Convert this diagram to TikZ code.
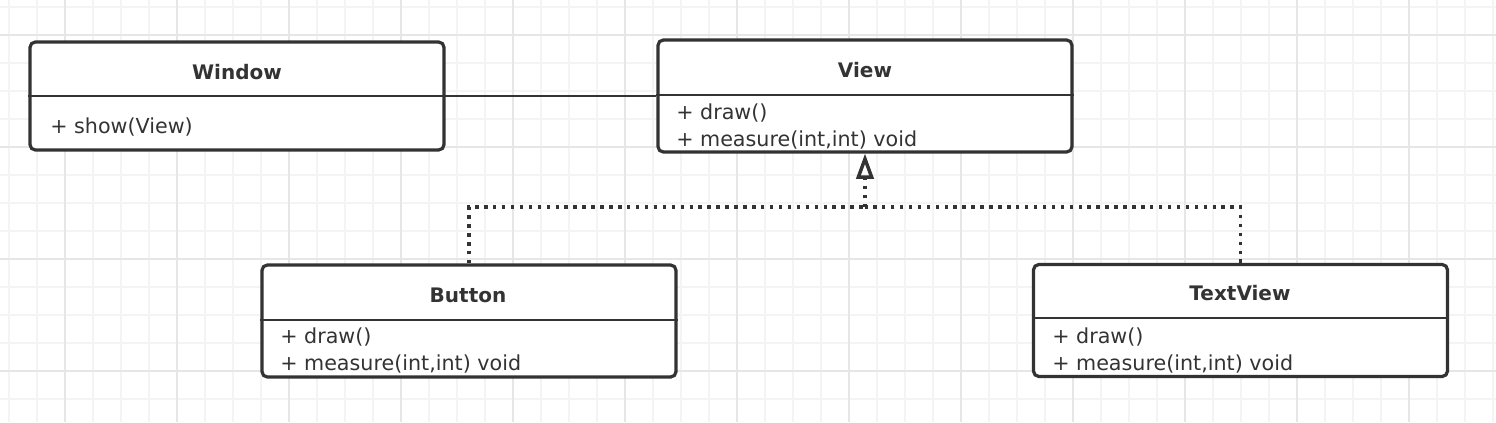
\documentclass[tikz,border=0pt]{standalone}
\usepackage{fontspec}
\setmainfont{DejaVu Sans}
\usepackage{tikz}
\usetikzlibrary{arrows.meta,positioning}
\definecolor{ink}{RGB}{51,51,51}
\definecolor{gridminor}{RGB}{244,244,244}
\definecolor{gridmajor}{RGB}{230,230,230}
\tikzset{
  minorline/.style={draw=gridminor,line width=1pt},
  majorline/.style={draw=gridmajor,line width=1.4pt},
  classbox/.style={draw=ink,line width=2.4pt,rounded corners=4pt,fill=white,
    minimum width=310.5pt,inner sep=0pt},
  classtitle/.style={font=\fontsize{15}{18}\selectfont\bfseries,text=ink,inner sep=0pt,anchor=base},
  member/.style={font=\fontsize{15.5}{18}\selectfont,text=ink,inner sep=0pt,anchor=base west},
  divider/.style={draw=ink,line width=1.7pt},
  assoc/.style={draw=ink,line width=1.7pt},
  realize/.style={draw=ink,line width=2.6pt,dash pattern=on 2.6pt off 4.1pt},
}
\begin{document}
\begin{tikzpicture}[x=0.75pt,y=-0.75pt]
\useasboundingbox (0,0) rectangle (1496,422);
% grid paper
\fill[white] (0,0) rectangle (1496,422);
\foreach \gx in {9,37,...,1493} \draw[minorline] (\gx,0) -- (\gx,422);
\foreach \gy in {7,35,...,399} \draw[minorline] (0,\gy) -- (1496,\gy);
\foreach \gx in {65,177,...,1409} \draw[majorline] (\gx,0) -- (\gx,422);
\foreach \gy in {35,147,...,371} \draw[majorline] (0,\gy) -- (1496,\gy);

% classes
\node[classbox,minimum height=81pt] (window) at (237,96) {};
\node[classtitle] (windowtitle) at (237,79) {Window};
\draw[divider] (window.west |- 0,96) -- (window.east |- 0,96);
\node[member] (windowshow) at (50,133) {+ show(View)};

\node[classbox,minimum height=84pt] (view) at (865,96) {};
\node[classtitle] (viewtitle) at (865,77) {View};
\draw[divider] (view.west |- 0,95) -- (view.east |- 0,95);
\node[member] (viewdraw) at (676,119) {+ draw()};
\node[member] (viewmeasure) at (676,146) {+ measure(int,int) void};

\node[classbox,minimum height=84pt] (button) at (469,321) {};
\node[classtitle] (buttontitle) at (468,302) {Button};
\draw[divider] (button.west |- 0,320) -- (button.east |- 0,320);
\node[member] (buttondraw) at (280,343) {+ draw()};
\node[member] (buttonmeasure) at (280,370) {+ measure(int,int) void};

\node[classbox,minimum height=84pt] (textview) at (1240.5,320.5) {};
\node[classtitle] (textviewtitle) at (1240,300) {TextView};
\draw[divider] (textview.west |- 0,318) -- (textview.east |- 0,318);
\node[member] (textviewdraw) at (1052,343) {+ draw()};
\node[member] (textviewmeasure) at (1052,370) {+ measure(int,int) void};

% relations
\draw[assoc] (window) -- (view);
\coordinate (join) at (865,207);
\draw[realize] (button.north) |- (join);
\draw[realize] (textview.north) |- (join);
\draw[realize,-{Triangle[open,length=19pt,width=13pt,line width=2.6pt]}] (join) -- (view.south);
\end{tikzpicture}
\end{document}
